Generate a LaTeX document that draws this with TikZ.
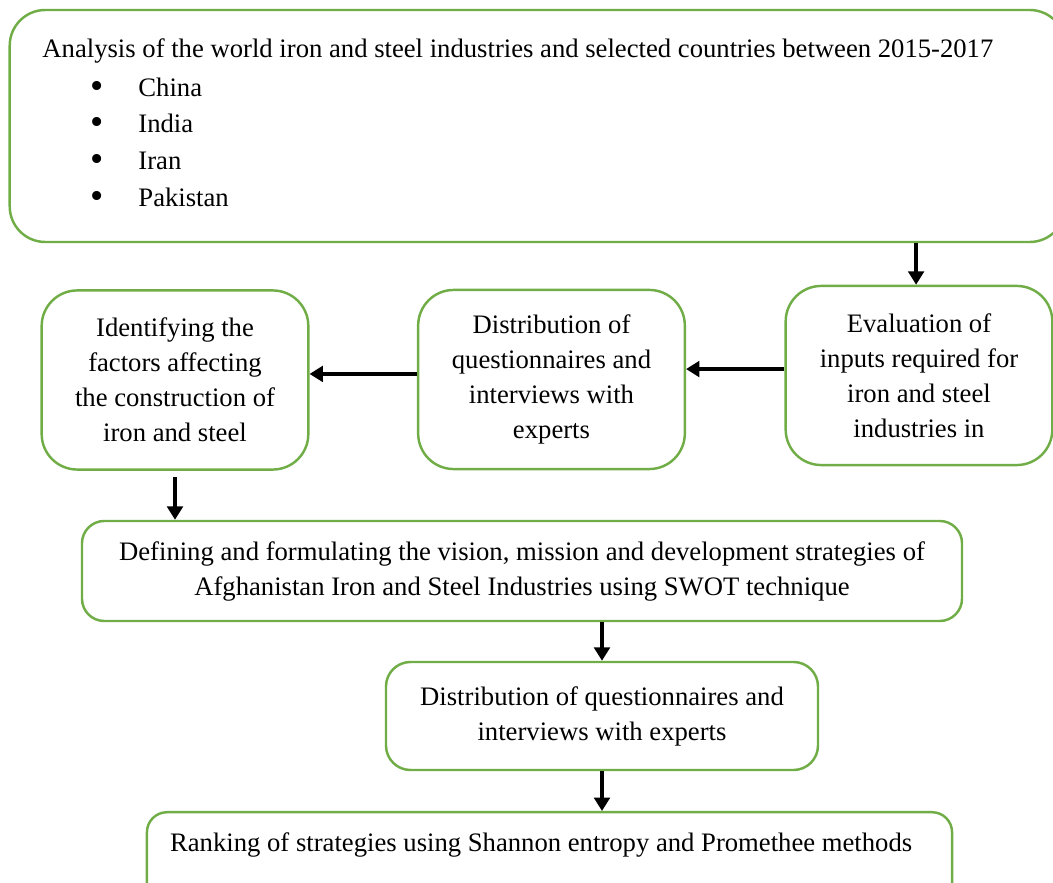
\documentclass[tikz,border=0pt]{standalone}
\usepackage{fontspec}
\setmainfont{Liberation Serif}
\usepackage{tikz}
\usetikzlibrary{arrows.meta}
\definecolor{stagegreen}{HTML}{70AD47}

\begin{document}
\begin{tikzpicture}[x=0.45pt,y=-0.45pt,
  every node/.style={font=\fontsize{12pt}{15.75pt}\selectfont},
  stage/.style={draw=stagegreen,line width=1.1pt,align=center,rounded corners=#1},
  stage/.default=10pt,
  row/.style={stage=16pt,minimum width=120pt,minimum height=80.6pt},
  item/.style={anchor=base west,inner sep=0pt},
  flow/.style={-{Triangle[length=6pt,width=7pt]},line width=1.5pt}]
\clip (0,0) rectangle (1053,883);
% world overview
\node[stage=16pt,minimum width=475pt,minimum height=104.4pt] (world) at (537.5,126) {};
\node[item] (analysis) at (42,58) {Analysis of the world iron and steel industries and selected countries between 2015-2017};
\foreach \country/\y in {China/97,India/133,Iran/170,Pakistan/207}{
  \node[anchor=base,inner sep=0pt,font=\fontsize{17pt}{17pt}\selectfont] (dot\country) at (97,\y+2) {\textbullet};
  \node[item] (\country) at (138,\y) {\country};
}
% second row
\node[row] (eval) at (919,375.5) {Evaluation of\\ inputs required for\\ iron and steel\\ industries in};
\node[row] (survey) at (551.5,379.5) {Distribution of\\ questionnaires and\\ interviews with\\ experts};
\node[row] (factors) at (175,380) {Identifying the\\ factors affecting\\ the construction of\\ iron and steel};
% strategies
\node[stage=10pt,minimum width=396pt,minimum height=45pt] (swot) at (522,571)
  {Defining and formulating the vision, mission and development strategies of\\ Afghanistan Iron and Steel Industries using SWOT technique};
\node[stage=11pt,minimum width=194.4pt,minimum height=48.6pt] (experts) at (602,716)
  {Distribution of questionnaires and\\ interviews with experts};
\node[stage=9pt,minimum width=362.3pt,anchor=north,inner ysep=0pt,text height=17.5pt,text depth=27.5pt] (rank) at (549.5,811)
  {\hspace*{-7.5pt}Ranking of strategies using Shannon entropy and Promethee methods};
% connectors
\coordinate (e1) at ([yshift=2.9pt]eval.west);
\coordinate (s1) at ([yshift=2.5pt]survey.west);
\coordinate (w1) at ([xshift=-1.3pt]eval.north);
\draw[flow] (world.south -| w1) -- (w1);
\draw[flow] (e1) -- (e1 -| survey.east);
\draw[flow] (s1) -- (s1 -| factors.east);
\draw[flow,shorten <=2.7pt] (factors.south) -- (factors.south |- swot.north);
\draw[flow] (swot.south -| experts.north) -- (experts.north);
\draw[flow] (experts.south) -- (experts.south |- rank.north);
\end{tikzpicture}
\end{document}
